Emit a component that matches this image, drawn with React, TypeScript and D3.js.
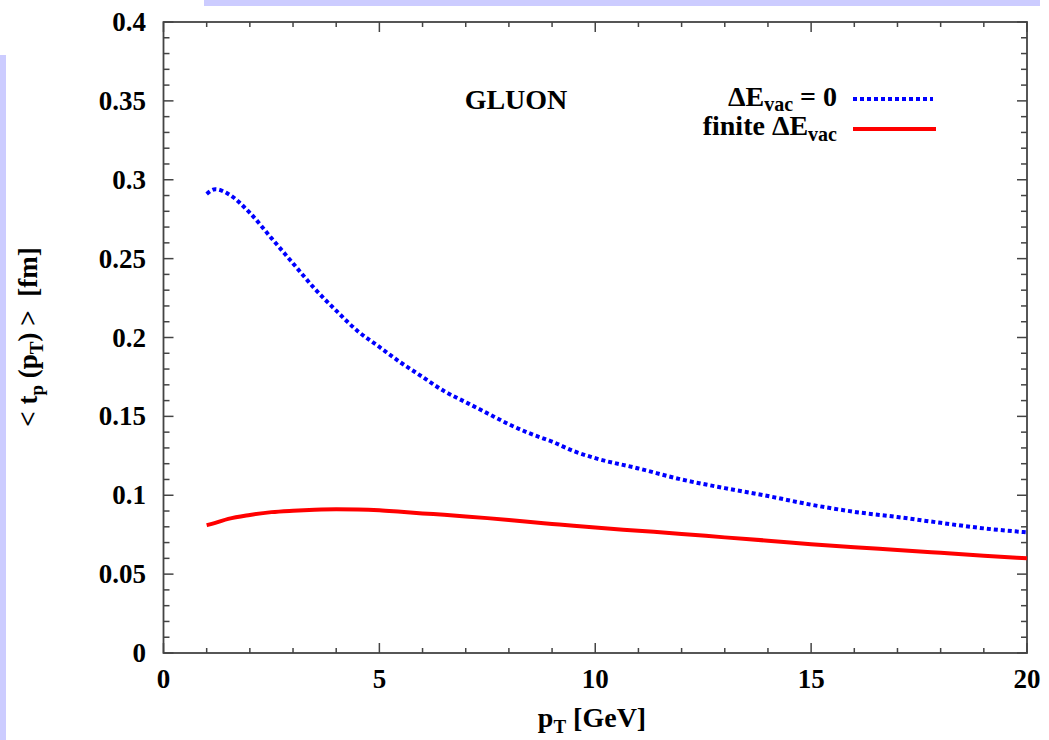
import React from "react";
import * as d3 from "d3";

// values
const pT = [1, 1.2, 1.5, 2, 2.5, 3, 3.5, 4, 4.5, 5, 5.5, 6, 6.5, 7, 7.5, 8, 8.5, 9, 9.5, 10, 11, 12, 13, 14, 15, 16, 17, 18, 19, 20];
const zeroVac = [0.291, 0.294, 0.291, 0.279, 0.263, 0.247, 0.231, 0.217, 0.204, 0.194, 0.184, 0.175, 0.166, 0.159, 0.152, 0.145, 0.139, 0.134, 0.128, 0.1235, 0.117, 0.11, 0.1045, 0.0995, 0.094, 0.0895, 0.0862, 0.0825, 0.079, 0.0765];
const finiteVac = [0.081, 0.0825, 0.085, 0.0875, 0.0893, 0.0902, 0.0908, 0.0911, 0.091, 0.0905, 0.0895, 0.0885, 0.0876, 0.0866, 0.0855, 0.0843, 0.083, 0.0818, 0.0806, 0.0795, 0.0775, 0.0755, 0.0733, 0.0712, 0.069, 0.067, 0.0653, 0.0635, 0.0617, 0.06];
const xTicks = [0, 5, 10, 15, 20];
const yTicks = [0, 0.05, 0.1, 0.15, 0.2, 0.25, 0.3, 0.35, 0.4];

const W = 1049;
const H = 740;
const left = 163.5, right = 1027, top = 22, bottom = 653;
const font = "'Liberation Serif', 'Times New Roman', serif";
const axisColor = "#444";

const App = () => {
    const x = d3.scaleLinear().domain([0, 20]).range([left, right]);
    const y = d3.scaleLinear().domain([0, 0.4]).range([bottom, top]);

    const line = d3.line<number>()
        .x((_, i) => x(pT[i]))
        .y((d) => y(d))
        .curve(d3.curveMonotoneX);

    const xMinor = d3.range(0, 21, 1).filter((v) => v % 5 !== 0);
    const yMinor = d3.range(0, 41, 1).filter((v) => v % 5 !== 0).map((v) => v / 100);

    return (
        <svg width={W} height={H} style={{ position: "absolute", left: 0, top: 0, background: "#fff" }}
            fontFamily={font} fontWeight="bold">
            {/* slide decoration bars */}
            <rect x={204} y={0} width={836} height={6} fill="#ccccff" />
            <rect x={0} y={55} width={6} height={H - 55} fill="#ccccff" />

            {/* ticks, inward and mirrored */}
            <g stroke={axisColor} strokeWidth={1.5}>
                {xTicks.map((t) => (
                    <g key={"xm" + t}>
                        <line x1={x(t)} x2={x(t)} y1={bottom} y2={bottom - 10} />
                        <line x1={x(t)} x2={x(t)} y1={top} y2={top + 10} />
                    </g>
                ))}
                {xMinor.map((t) => (
                    <g key={"xn" + t}>
                        <line x1={x(t)} x2={x(t)} y1={bottom} y2={bottom - 5} />
                        <line x1={x(t)} x2={x(t)} y1={top} y2={top + 5} />
                    </g>
                ))}
                {yTicks.map((t) => (
                    <g key={"ym" + t}>
                        <line x1={left} x2={left + 10} y1={y(t)} y2={y(t)} />
                        <line x1={right} x2={right - 10} y1={y(t)} y2={y(t)} />
                    </g>
                ))}
                {yMinor.map((t) => (
                    <g key={"yn" + t}>
                        <line x1={left} x2={left + 6} y1={y(t)} y2={y(t)} />
                        <line x1={right} x2={right - 6} y1={y(t)} y2={y(t)} />
                    </g>
                ))}
            </g>
            <rect x={left} y={top} width={right - left} height={bottom - top} fill="none" stroke={axisColor} strokeWidth={1.8} />

            {/* tick labels */}
            <g fontSize={27} fill="#000">
                {xTicks.map((t) => (
                    <text key={"xl" + t} x={x(t)} y={688} textAnchor="middle">{t}</text>
                ))}
                {yTicks.map((t) => (
                    <text key={"yl" + t} x={146} y={y(t) + 9} textAnchor="end">{t}</text>
                ))}
            </g>

            {/* axis titles */}
            <text x={592} y={727} fontSize={28} textAnchor="middle">
                p<tspan fontSize={19} dy={6}>T</tspan><tspan dy={-6}> [GeV]</tspan>
            </text>
            <text transform={`translate(37,337) rotate(-90)`} fontSize={27} textAnchor="middle">
                {"< t"}<tspan fontSize={19} dy={6}>p</tspan><tspan dy={-6}>{" (p"}</tspan><tspan fontSize={19} dy={6}>T</tspan><tspan dy={-6}>{") >\u00a0\u00a0[fm]"}</tspan>
            </text>

            <text x={516} y={109} fontSize={28} textAnchor="middle">GLUON</text>

            {/* curves */}
            <path d={line(zeroVac) || ""} fill="none" stroke="#0000ff" strokeWidth={4} strokeDasharray="4 3" />
            <path d={line(finiteVac) || ""} fill="none" stroke="#ff0000" strokeWidth={4} />

            {/* legend */}
            <g fontSize={28}>
                <text x={837} y={106} textAnchor="end">
                    ΔE<tspan fontSize={20} dy={5}>vac</tspan><tspan dy={-5}> = 0</tspan>
                </text>
                <text x={837} y={135} textAnchor="end">
                    finite ΔE<tspan fontSize={20} dy={6}>vac</tspan>
                </text>
            </g>
            <line x1={853} x2={933} y1={99} y2={99} stroke="#0000ff" strokeWidth={4} strokeDasharray="4 3" />
            <line x1={853} x2={936} y1={129} y2={129} stroke="#ff0000" strokeWidth={4} />
        </svg>
    );
};

export default App;
